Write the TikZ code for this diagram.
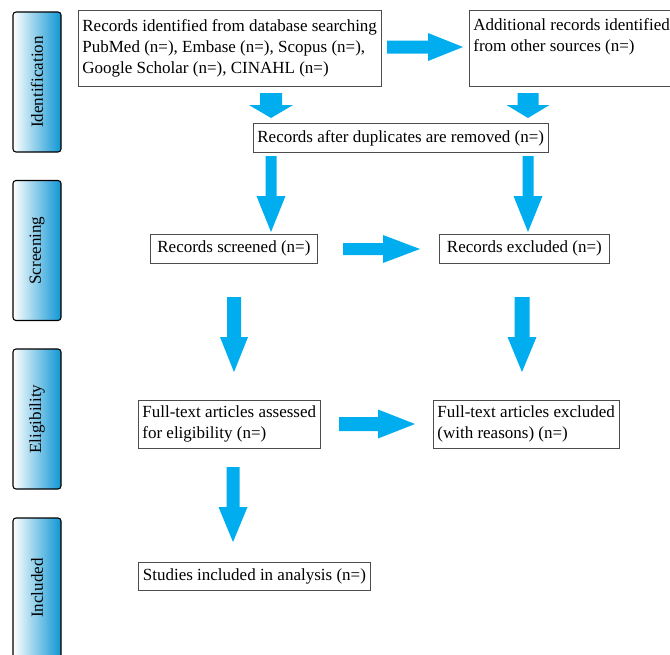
\documentclass[tikz,border=0pt]{standalone}
\usepackage{fontspec}
\setmainfont{Liberation Serif}
\usepackage{graphicx}
\usepackage{tikz}
\usetikzlibrary{positioning}

\definecolor{arrowblue}{RGB}{0,174,239}
\definecolor{barblue}{RGB}{15,150,212}

\begin{document}
\begin{tikzpicture}[x=1pt,y=-1pt,
    font=\fontsize{17}{21}\selectfont,
    stage/.style={draw=black,line width=1.1pt,rounded corners=3pt,
      minimum width=48pt,minimum height=140pt,inner sep=0pt,
      left color=white,right color=barblue},
    box/.style={draw=black!70,line width=0.8pt,anchor=north west,align=left,
      inner xsep=4pt,inner ysep=0pt},
    pics/fatarrow/.style n args={4}{code={
      \fill[arrowblue] (0,-#2) -- (#1-#4,-#2) -- (#1-#4,-#3) -- (#1,0)
        -- (#1-#4,#3) -- (#1-#4,#2) -- (0,#2) -- cycle;}}]
  \useasboundingbox (0,0) rectangle (670,654);

  % stages on the left
  \node[stage] (idbar) at (37,82) {\rotatebox{90}{Identification}};
  \node[stage] (scrbar) at (37,250.5) {\rotatebox{90}{Screening}};
  \node[stage] (eligbar) at (37,419) {\rotatebox{90}{Eligibility}};
  \node[stage] (inclbar) at (37,588) {\rotatebox{90}{Included}};

  % boxes
  \node[box,minimum width=300pt,minimum height=76pt] (dbsearch) at (78,10)
    {Records identified from database searching\\
     PubMed (n=), Embase (n=), Scopus (n=),\\
     Google Scholar (n=), CINAHL (n=)};
  \node[box,minimum width=204pt,minimum height=76pt] (othersrc) at (469,10)
    {Additional records identified\\from other sources (n=)\\\strut};
  \node[box,minimum width=294pt,minimum height=29pt] (nodup) at (253,123)
    {Records after duplicates are removed (n=)};
  \node[box,minimum width=167pt,minimum height=29pt] (screened) at (150,234)
    {Records screened (n=)};
  \node[box,minimum width=170pt,minimum height=29pt] (excluded) at (439,234)
    {Records excluded (n=)};
  \node[box,minimum width=181pt,minimum height=48pt] (fulltext) at (138,400)
    {Full-text articles assessed\\for eligibility (n=)};
  \node[box,minimum width=182pt,minimum height=48pt] (ftexcl) at (433,400)
    {Full-text articles excluded\\(with reasons) (n=)};
  \node[box,minimum width=232pt,minimum height=28pt] (included) at (138,562)
    {Studies included in analysis (n=)};

  % block arrows
  \pic at (387,47) {fatarrow={76}{6.5}{14}{35}};
  \pic[rotate=-90] at (271,93) {fatarrow={25}{11}{22}{13}};
  \pic[rotate=-90] at (528,93) {fatarrow={25}{10.5}{21.5}{13}};
  \pic[rotate=-90] at (271,156) {fatarrow={76}{5.5}{14.5}{36}};
  \pic[rotate=-90] at (528,156) {fatarrow={76}{5.5}{14.5}{36}};
  \pic at (343,249) {fatarrow={77}{6}{14}{37}};
  \pic[rotate=-90] at (234,297) {fatarrow={75}{7}{14}{35}};
  \pic[rotate=-90] at (522,297) {fatarrow={75}{7.5}{14.5}{35}};
  \pic at (339,424) {fatarrow={76}{7}{14.5}{37}};
  \pic[rotate=-90] at (233,467) {fatarrow={75}{6.5}{14.5}{35}};
\end{tikzpicture}
\end{document}
